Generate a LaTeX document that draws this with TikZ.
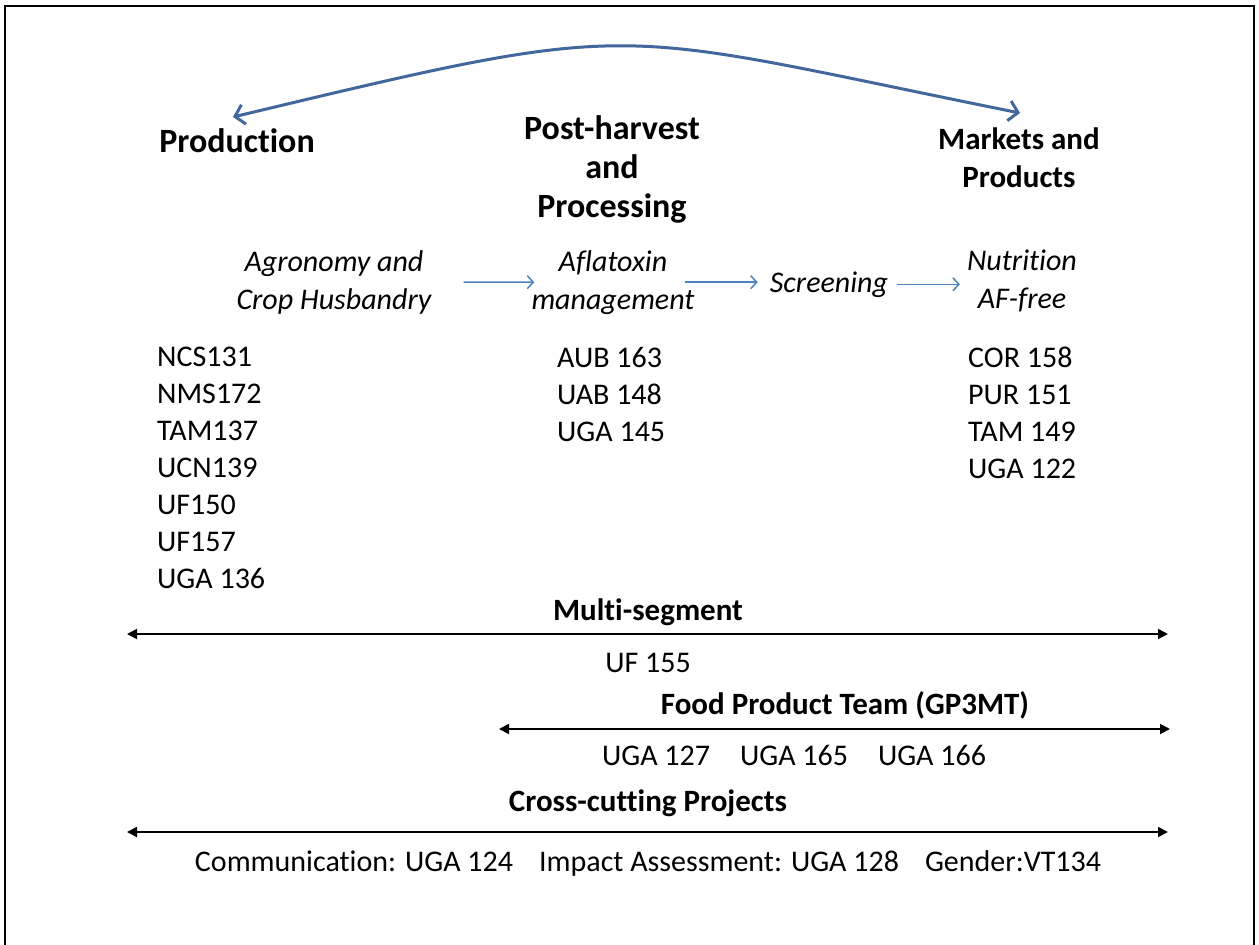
\documentclass[tikz,border=0pt]{standalone}
\usepackage{fontspec}
\setmainfont{Carlito}[Ligatures=NoCommon]
\usetikzlibrary{arrows.meta,positioning}
\definecolor{arcblue}{RGB}{65,103,156}
\definecolor{flowblue}{RGB}{79,129,189}

\begin{document}
\begin{tikzpicture}[x=1pt,y=-1pt,
  segment/.style={font=\fontsize{34}{39}\selectfont\bfseries, align=center, inner sep=0pt},
  stage/.style={font=\fontsize{30}{38}\selectfont\itshape, align=center, inner sep=0pt},
  projlist/.style={font=\fontsize{30}{37}\selectfont, align=left, inner sep=0pt, anchor=north west},
  band/.style={font=\fontsize{31}{36}\selectfont\bfseries, inner sep=0pt, anchor=base},
  item/.style={font=\fontsize{30}{36}\selectfont, inner sep=0pt, anchor=base},
  flow/.style={draw=flowblue, line width=1.5pt, -{Straight Barb[length=6pt,width=13pt]}},
  span/.style={line width=1.8pt, {Triangle[length=10pt,width=10pt]}-{Triangle[length=10pt,width=10pt]}}]
  \useasboundingbox (0,0) rectangle (1259,945);
  % Frame of the slide
  \draw[line width=2pt] (5,945) -- (5,6) -- (1254,6) -- (1254,945);

  % Value chain segments
  \node[segment, anchor=base] (prod) at (237,152) {Production};
  \node[segment, anchor=north] (post) at (612,115) {Post-harvest\\and\\Processing};
  \node[segment, font=\fontsize{31}{38}\selectfont\bfseries, anchor=north] (mkt) at (1019,128) {Markets and\\Products};
  \coordinate (arcL) at (233,117);
  \coordinate (arcR) at (1020,113);
  \draw[arcblue, line width=3pt, {Straight Barb[length=9pt,width=20pt]}-{Straight Barb[length=9pt,width=20pt]}]
    (arcL) .. controls (651,17) and (602,29) .. (arcR);

  % Research stages
  \node[stage, anchor=north] (agro) at (334,250) {Agronomy and\\Crop Husbandry};
  \node[stage, anchor=north] (afla) at (613,250) {Aflatoxin\\management};
  \node[stage, anchor=base] (screen) at (829,292) {Screening};
  \node[stage, anchor=north] (nutri) at (1022,250) {Nutrition\\AF-free};
  \draw[flow] ([xshift=32pt]agro.east) -- ([xshift=3pt]afla.west);
  \draw[flow] ([xshift=-10pt]afla.east) -- ([xshift=-12pt]afla.east -| screen.west);
  \draw[flow] ([xshift=9pt]screen.east) -- ([xshift=-7pt]screen.east -| nutri.west);

  % Projects per segment
  \node[projlist] (prodlist) at (157,347) {NCS131\\NMS172\\TAM137\\UCN139\\UF150\\UF157\\UGA 136};
  \node[projlist] (postlist) at (557,347) {AUB 163\\UAB 148\\UGA 145};
  \node[projlist] (mktlist) at (968,347) {COR 158\\PUR 151\\TAM 149\\UGA 122};

  % Multi-segment
  \node[band] (multi) at (648,620) {Multi-segment};
  \coordinate (multiL) at (127,634);
  \coordinate (multiR) at (1168,634);
  \draw[span] (multiL) -- (multiR);
  \node[item] (uf) at (648,672) {UF 155};

  % Food product team
  \node[band] (food) at (845,714) {Food Product Team (GP3MT)};
  \coordinate (foodL) at (499,729);
  \coordinate (foodR) at (1170,729);
  \draw[span] (foodL) -- (foodR);
  \node[item] (ugarow) at (794,765) {UGA 127\quad UGA 165\quad UGA 166};

  % Cross-cutting
  \node[band] (cross) at (648,811) {Cross-cutting Projects};
  \coordinate (crossL) at (127,832);
  \coordinate (crossR) at (1168,832);
  \draw[span] (crossL) -- (crossR);
  \node[item] (comm) at (648,871) {Communication: UGA 124\hspace{26pt}Impact Assessment: UGA 128\hspace{26pt}Gender:VT134};
\end{tikzpicture}
\end{document}
